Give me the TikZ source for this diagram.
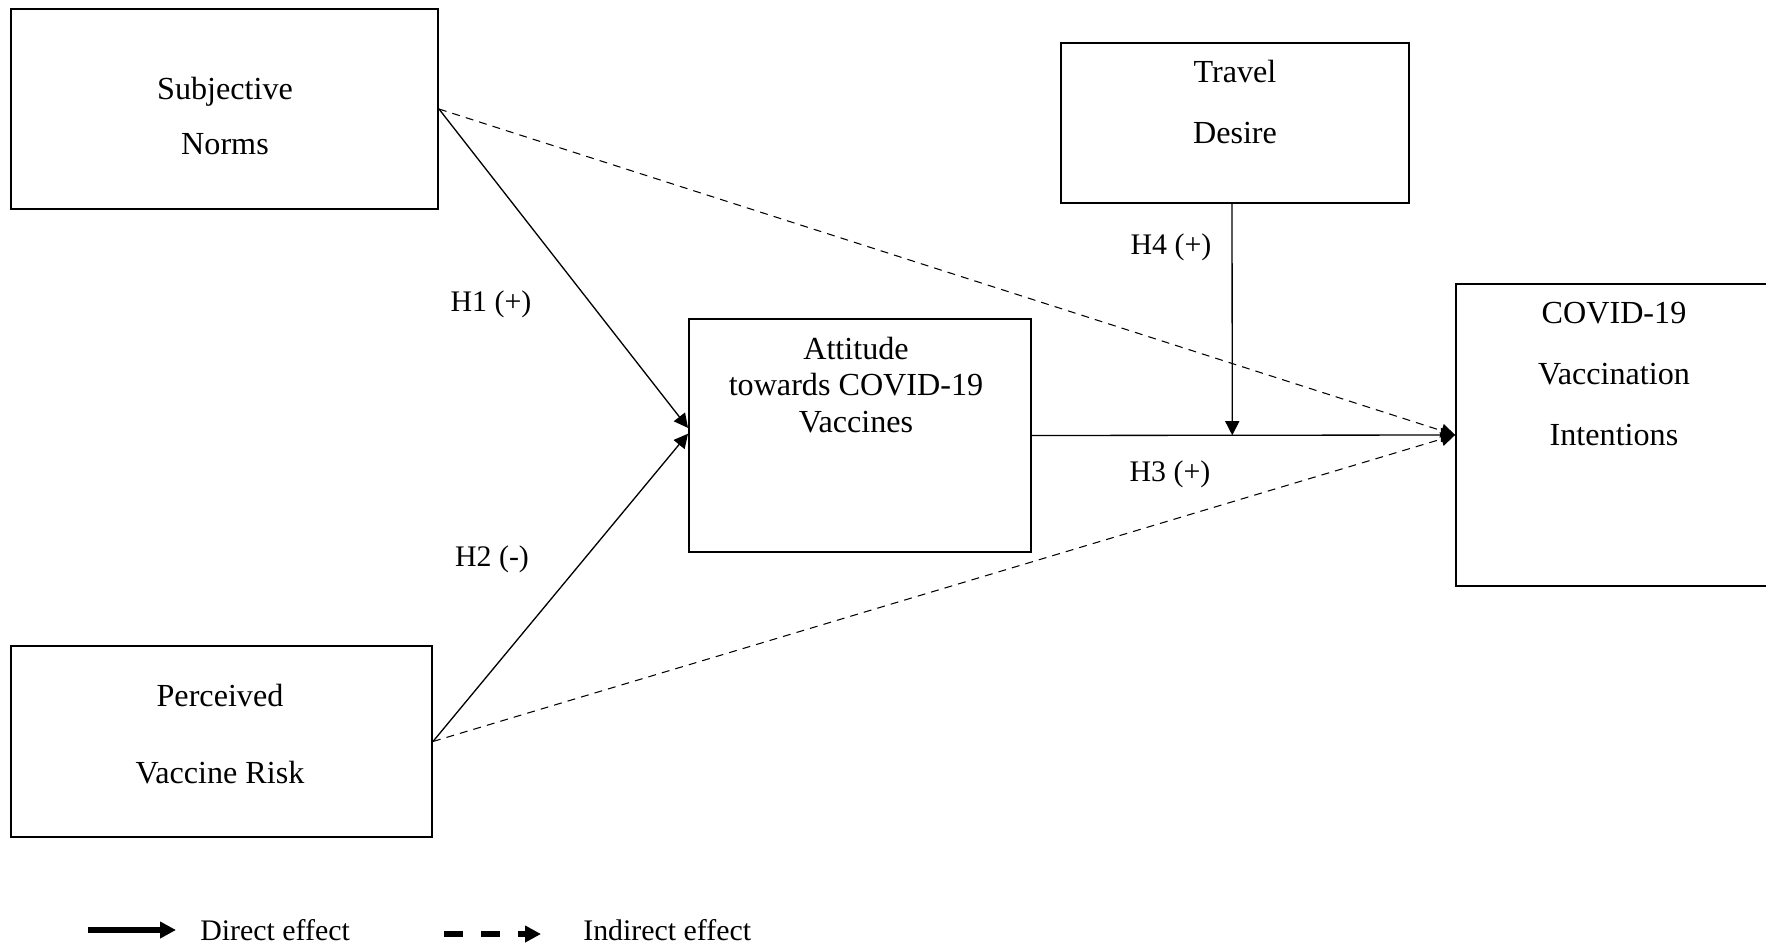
\documentclass[tikz,border=0pt]{standalone}
\usepackage{fontspec}
\setmainfont{Liberation Serif}
\usetikzlibrary{arrows.meta,calc,fit}
\tikzset{
  varbox/.style={draw,line width=1.1pt,inner sep=0pt},
  vartext/.style={align=center,font=\fontsize{18.3}{21}\selectfont},
  hyplabel/.style={font=\fontsize{17}{21}\selectfont},
  direct/.style={line width=.75pt,-{Triangle[length=8pt,width=8pt]}},
  indirect/.style={line width=.6pt,dash pattern=on 4.5pt off 3.5pt,-{Triangle[length=8pt,width=8pt]}}
}

\begin{document}
\begin{tikzpicture}[x=.02cm,y=-.02cm]
\path[use as bounding box,clip] (0,0) rectangle (1766,946);
% constructs
\node[varbox,fit={(11,9) (438,209)}] (sn) {};
\node[varbox,fit={(11,646) (432,837)}] (pvr) {};
\node[varbox,fit={(689,319) (1031,552)}] (att) {};
\node[varbox,fit={(1061,43) (1409,203)}] (td) {};
\node[varbox,fit={(1456,284) (1800,586)}] (cvi) {};
\node[vartext] (sntext) at (225,116) {Subjective\\[10.8pt]Norms};
\node[vartext] (pvrtext) at (220,734) {Perceived\\[22.8pt]Vaccine Risk};
\node[vartext] (atttext) at (856,385) {Attitude\\towards COVID-19\\Vaccines};
\node[vartext] (tdtext) at (1235,102) {Travel\\[13.7pt]Desire};
\node[vartext] (cvitext) at (1614,374) {COVID-19\\[13.7pt]Vaccination\\[13.7pt]Intentions};

% paths
\coordinate (tdfoot) at ([xshift=-1.7pt]td.south);
\coordinate (junction) at ($(att.east)!(tdfoot)!(cvi.west)$);
\draw[direct] (sn.east) -- ([yshift=4.3pt]att.west);
\draw[direct] (pvr.east) -- ([yshift=1pt]att.west);
\draw[direct] (att.east) -- (cvi.west);
\draw[direct] (tdfoot) -- (junction);
\draw[indirect] (sn.east) -- (cvi.west);
\draw[indirect] (pvr.east) -- (cvi.west);
\node[hyplabel] (h1) at (491,304) {H1 (+)};
\node[hyplabel] (h2) at (492,559) {H2 (-)};
\node[hyplabel] (h3) at (1170,474) {H3 (+)};
\node[hyplabel] (h4) at (1171,247) {H4 (+)};

% legend
\coordinate (ds) at (88,930);
\coordinate (de) at (176,930);
\coordinate (is) at (444,934);
\coordinate (ie) at (541,934);
\draw[line width=3pt,-{Triangle[length=9pt,width=9pt]}] (ds) -- (de);
\draw[line width=3.6pt,dash pattern=on 11pt off 10pt,-{Triangle[length=9pt,width=9pt]}] (is) -- (ie);
\node[hyplabel,anchor=west,inner sep=0pt] (direct) at (200,930) {Direct effect};
\node[hyplabel,anchor=west,inner sep=0pt] (indirect) at (583,930) {Indirect effect};
\end{tikzpicture}
\end{document}
